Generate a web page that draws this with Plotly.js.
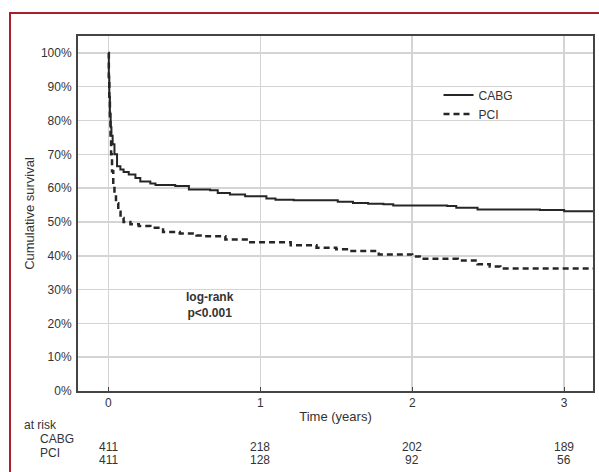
<!DOCTYPE html>
<html>
<head>
<meta charset="utf-8">
<script src="https://cdn.plot.ly/plotly-3.0.1.min.js"></script>
<style>
  html, body { margin: 0; padding: 0; background: #fff; }
  #wrap { position: relative; width: 599px; height: 472px; overflow: hidden; }
  #chart { position: absolute; left: 0; top: 0; width: 599px; height: 472px; }
  #frame { position: absolute; left: 9px; top: 12px; width: 700px; height: 600px;
           border-left: 2px solid #a81e2c; border-top: 2px solid #a81e2c; pointer-events: none; z-index: 10; }
</style>
</head>
<body>
<div id="wrap"><div id="chart"></div><div id="frame"></div></div>
<script>
// Kaplan-Meier curves (time in years, cumulative survival as fraction)
const cabgTime = [0, 0.003, 0.006, 0.01, 0.015, 0.02, 0.028, 0.04, 0.057, 0.079, 0.1, 0.134, 0.178, 0.21, 0.276, 0.31, 0.44, 0.53, 0.67, 0.72, 0.8, 0.9, 1.04, 1.1, 1.22, 1.51, 1.61, 1.71, 1.81, 1.875, 2.23, 2.29, 2.43, 2.84, 3.0, 3.19];
const cabgSurv = [1.0, 0.93, 0.87, 0.82, 0.78, 0.755, 0.73, 0.70, 0.665, 0.655, 0.648, 0.64, 0.63, 0.62, 0.614, 0.609, 0.606, 0.596, 0.594, 0.586, 0.581, 0.576, 0.569, 0.566, 0.564, 0.560, 0.556, 0.554, 0.552, 0.549, 0.547, 0.542, 0.537, 0.535, 0.532, 0.532];
const pciTime = [0, 0.003, 0.006, 0.01, 0.014, 0.018, 0.024, 0.032, 0.04, 0.05, 0.065, 0.08, 0.1, 0.145, 0.2, 0.276, 0.36, 0.47, 0.58, 0.62, 0.77, 0.91, 1.2, 1.37, 1.5, 1.57, 1.78, 2.0, 2.05, 2.3, 2.43, 2.51, 2.58, 3.19];
const pciSurv = [1.0, 0.92, 0.86, 0.80, 0.75, 0.70, 0.65, 0.61, 0.58, 0.555, 0.53, 0.512, 0.50, 0.493, 0.488, 0.483, 0.47, 0.466, 0.46, 0.458, 0.448, 0.44, 0.431, 0.424, 0.419, 0.414, 0.404, 0.398, 0.391, 0.386, 0.375, 0.368, 0.362, 0.362];

// Numbers at risk
const riskTimes = [0, 1, 2, 3];
const riskGroups = ["CABG", "PCI"];
const riskCABG = [411, 218, 202, 189];
const riskPCI = [411, 128, 92, 56];

const yTickVals = [0, 0.1, 0.2, 0.3, 0.4, 0.5, 0.6, 0.7, 0.8, 0.9, 1.0];
const yTickText = ["0%", "10%", "20%", "30%", "40%", "50%", "60%", "70%", "80%", "90%", "100%"];
const xTickVals = [0, 1, 2, 3];

const font = "Liberation Sans, Arial, sans-serif";
const txt = "#333333";

const traces = [
  { x: cabgTime, y: cabgSurv, name: "CABG", type: "scatter", mode: "lines",
    line: { shape: "hv", color: "#262626", width: 2 } },
  { x: pciTime, y: pciSurv, name: "PCI", type: "scatter", mode: "lines",
    line: { shape: "hv", color: "#262626", width: 2.5, dash: "6px,4px" } }
];

// paper-y for a pixel row (plot area: top 36, bottom 391)
const py = (Y) => (391 - Y) / 355;

const annotations = [
  { xref: "x", yref: "y", x: 0.67, y: 0.255, text: "<b>log-rank<br>p<0.001</b>", showarrow: false,
    font: { family: font, size: 12, color: txt }, align: "center" },
  { xref: "paper", yref: "paper", x: -0.108, y: py(425), xanchor: "left", yanchor: "middle",
    text: "at risk", showarrow: false, font: { family: font, size: 12, color: txt } }
];
const labelRows = [439, 453];
const numRows = [447, 460];
const labelX = [-0.078, -0.078];
const rowVals = [riskCABG, riskPCI];
riskGroups.forEach((g, gi) => {
  annotations.push({ xref: "paper", yref: "paper", x: labelX[gi], y: py(labelRows[gi]), xanchor: "left", yanchor: "middle",
    text: g, showarrow: false, font: { family: font, size: 12, color: txt } });
  riskTimes.forEach((t, i) => {
    annotations.push({ xref: "x", yref: "paper", x: t, y: py(numRows[gi]), xanchor: "center", yanchor: "middle",
      text: String(rowVals[gi][i]), showarrow: false, font: { family: font, size: 12, color: txt } });
  });
});

const layout = {
  width: 599, height: 472,
  margin: { l: 78, r: 6, t: 36, b: 81 },
  paper_bgcolor: "#ffffff", plot_bgcolor: "#ffffff",
  font: { family: font, size: 12, color: txt },
  showlegend: true,
  legend: { x: 0.70, y: 0.875, xanchor: "left", yanchor: "top", bgcolor: "rgba(0,0,0,0)",
    font: { family: font, size: 12, color: txt }, tracegroupgap: 0, itemwidth: 30 },
  xaxis: {
    range: [-0.2, 3.19], tickvals: xTickVals, ticktext: xTickVals.map(String),
    showgrid: true, gridcolor: "#d4d4d4", gridwidth: 1.5, zeroline: false,
    showline: true, linecolor: "#444", linewidth: 2, mirror: true,
    ticks: "inside", ticklen: 4, tickcolor: "#444",
    tickfont: { family: font, size: 12, color: txt },
    title: { text: "Time (years)", font: { family: font, size: 13, color: txt }, standoff: 2 }
  },
  yaxis: {
    range: [0, 1.05], tickvals: yTickVals, ticktext: yTickText,
    showgrid: true, gridcolor: "#d4d4d4", gridwidth: 1.5, zeroline: false,
    showline: true, linecolor: "#444", linewidth: 2, mirror: true,
    ticks: "", ticklabelstandoff: 2,
    tickfont: { family: font, size: 12, color: txt },
    title: { text: "Cumulative survival", font: { family: font, size: 13, color: txt }, standoff: 3 }
  },
  xaxis2: { overlaying: "x", anchor: "y", side: "top", range: [-0.25, 11.12], tick0: 0, dtick: 1,
    ticks: "inside", ticklen: 3, tickcolor: "#444", showticklabels: false, showgrid: false,
    zeroline: false, showline: false },
  yaxis2: { overlaying: "y", anchor: "x", side: "right", range: [-1, 7.6], tick0: 0, dtick: 1,
    ticks: "inside", ticklen: 3, tickcolor: "#444", showticklabels: false, showgrid: false,
    zeroline: false, showline: false },
  annotations: annotations
};

Plotly.newPlot("chart", traces, layout, { displayModeBar: false, staticPlot: true });
</script>
</body>
</html>
